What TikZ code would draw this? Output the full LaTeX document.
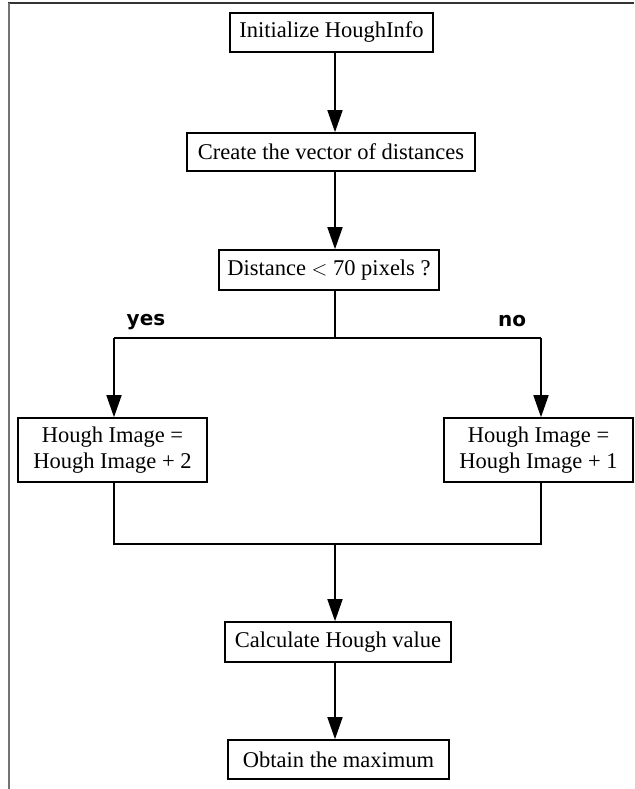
\documentclass[tikz,border=0pt]{standalone}
\usepackage{fontspec}
\setmainfont{Liberation Serif}
\newfontfamily\labelfont{DejaVu Sans}
\usetikzlibrary{arrows.meta}
\begin{document}
\begin{tikzpicture}[x=1pt,y=-1pt,
  stepbox/.style={draw, line width=1.6pt, inner sep=0pt, align=center,
    font=\fontsize{22.5}{26.5}\selectfont},
  flow/.style={line width=1.6pt, -{Triangle[length=22pt,width=15pt]}},
  link/.style={line width=1.6pt},
  branch/.style={font=\labelfont\bfseries\fontsize{20}{22}\selectfont}]
\useasboundingbox (0,0) rectangle (634,789);
% page frame
\draw[line width=1.6pt, color=black!80] (8,3) -- (634,3);
\draw[line width=2pt, color=black!55] (8.5,3) -- (8.5,789);
% axis of the main column
\coordinate (axis) at (335,0);
% boxes
\node[stepbox, minimum width=203pt, minimum height=39pt] (init) at (331.5,32.5) {Initialize HoughInfo};
\node[stepbox, minimum width=288pt, minimum height=38pt] (create) at (331,152) {Create the vector of distances};
\node[stepbox, minimum width=220pt, minimum height=40pt] (test) at (329,270) {Distance $<$ 70 pixels ?};
\node[stepbox, minimum width=189pt, minimum height=64pt] (plus2) at (112.5,450) {Hough Image =\\Hough Image + 2};
\node[stepbox, minimum width=189pt, minimum height=64pt] (plus1) at (538.5,450) {Hough Image =\\Hough Image + 1};
\node[stepbox, minimum width=226pt, minimum height=40pt] (calc) at (338,642) {Calculate Hough value};
\node[stepbox, minimum width=221pt, minimum height=39pt] (maxim) at (338.5,759.5) {Obtain the maximum};
% branch labels
\node[branch] (yes) at (146,322) {yes};
\node[branch] (no) at (512,321) {no};
% junction points
\coordinate (split) at (335,338);
\coordinate (splitL) at (114,338);
\coordinate (splitR) at (541,338);
\coordinate (join) at (335,544);
\coordinate (joinL) at (114,544);
\coordinate (joinR) at (541,544);
% connectors
\draw[flow] (init.south -| axis) -- (create.north -| axis);
\draw[flow] (create.south -| axis) -- (test.north -| axis);
\draw[link] (test.south -| axis) -- (split);
\draw[link] (splitL) -- (splitR);
\draw[flow] (splitL) -- (plus2.north -| splitL);
\draw[flow] (splitR) -- (plus1.north -| splitR);
\draw[link] (plus2.south -| joinL) -- (joinL) -- (joinR) -- (plus1.south -| joinR);
\draw[flow] (join) -- (calc.north -| join);
\draw[flow] (calc.south -| axis) -- (maxim.north -| axis);
\end{tikzpicture}
\end{document}
